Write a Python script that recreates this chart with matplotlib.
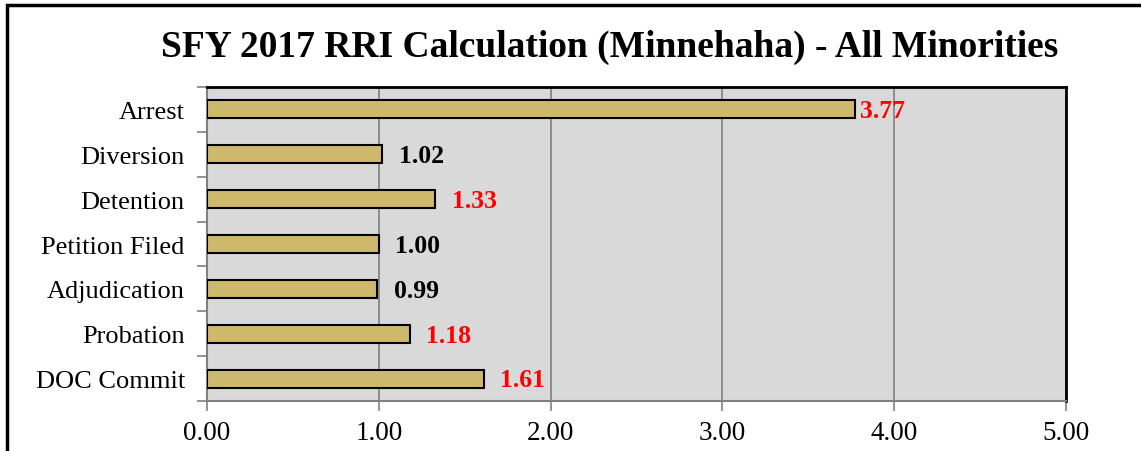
import matplotlib
matplotlib.use("Agg")
import matplotlib.pyplot as plt
from matplotlib.patches import Rectangle

# data
categories = ["Arrest", "Diversion", "Detention", "Petition Filed",
              "Adjudication", "Probation", "DOC Commit"]
rri_values = [3.77, 1.02, 1.33, 1.00, 0.99, 1.18, 1.61]
significant = [True, False, True, False, False, True, True]
x_ticks = [0, 1, 2, 3, 4, 5]

plt.rcParams['font.family'] = ['Liberation Serif', 'DejaVu Serif']

fig = plt.figure(figsize=(11.41, 4.52), dpi=100)
ax = fig.add_axes([0.1814, 0.1106, 0.7529, 0.6947])
ax.set_facecolor("#d9d9d9")

ypos = list(range(len(categories)))
ax.barh(ypos, rri_values, height=0.4, color="#cdb86b",
        edgecolor="black", linewidth=1.5, zorder=3)

for y, v, sig in zip(ypos, rri_values, significant):
    pad = 4 if v > 3.5 else 12
    ax.annotate("%.2f" % v, (v, y), xytext=(pad, -1), textcoords="offset points",
                va="center", ha="left", fontsize=18.5, fontweight="bold",
                color="red" if sig else "black", zorder=4)

ax.set_xlim(0, 5)
ax.set_ylim(len(categories) - 0.5, -0.5)
ax.set_xticks(x_ticks)
ax.set_xticklabels(["%.2f" % t for t in x_ticks], fontsize=19.5)
ax.set_yticks(ypos)
ax.set_yticklabels(categories, fontsize=19)
ax.set_yticks([y - 0.5 for y in range(len(categories) + 1)], minor=True)
ax.tick_params(axis="y", which="major", length=0, pad=16)
ax.tick_params(axis="y", which="minor", length=7, color="#808080", width=1.2)
ax.tick_params(axis="x", length=7, color="#808080", width=1.2, pad=7)

ax.xaxis.grid(True, color="#808080", linewidth=1.2, zorder=1)
ax.set_axisbelow(True)

ax.spines["left"].set_color("#808080")
ax.spines["bottom"].set_color("#808080")
ax.spines["left"].set_linewidth(1.5)
ax.spines["bottom"].set_linewidth(1.5)
ax.spines["top"].set_color("black")
ax.spines["right"].set_color("black")
ax.spines["top"].set_linewidth(2)
ax.spines["right"].set_linewidth(2)

fig.text(0.534, 0.895, "SFY 2017 RRI Calculation (Minnehaha) - All Minorities",
         ha="center", va="center", fontsize=27, fontweight="bold")

# outer chart border (right and bottom are cropped in the reference)
fig.patches.append(Rectangle((7 / 1141, -0.1), 1.2, 1 - 6 / 452 + 0.1,
                             transform=fig.transFigure, fill=False,
                             edgecolor="black", linewidth=2.5, clip_on=False))

fig.savefig("out.png", dpi=100)
